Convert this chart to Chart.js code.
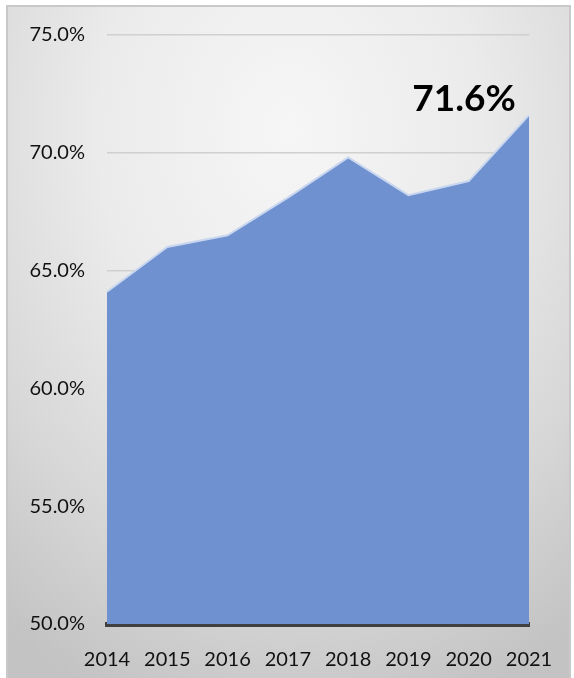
<!DOCTYPE html>
<html lang="en">
<head>
    <meta charset="UTF-8">
    <title>Share 2014-2021</title>
    <style>
        html, body {
            margin: 0;
            padding: 0;
            width: 574px;
            height: 678px;
            overflow: hidden;
            background: #ffffff;
        }
        .frame {
            position: absolute;
            left: 6px;
            top: 5px;
            width: 561px;
            height: 680px;
            border: 2px solid #c9c9c9;
            background: radial-gradient(ellipse 85% 90% at 50% 18%, #f6f6f6 0%, #ebebeb 40%, #d6d6d6 75%, #c3c3c3 100%);
        }
        canvas {
            position: absolute;
            left: 0;
            top: 0;
        }
    </style>
</head>
<body>
    <div class="frame"></div>
    <canvas id="shareChart" width="574" height="678"></canvas>

    <script src="https://cdn.jsdelivr.net/npm/chart.js"></script>
    <script>
        // values (percent)
        const years = ['2014', '2015', '2016', '2017', '2018', '2019', '2020', '2021'];
        const shares = [64.1, 66.0, 66.5, 68.1, 69.8, 68.2, 68.8, 71.6];
        const yTicks = [50, 55, 60, 65, 70, 75];
        const calloutIndex = 7;

        Chart.defaults.font.family = 'Lato, "Open Sans", sans-serif';
        Chart.defaults.color = '#111111';

        // big bold label above the last point
        const calloutPlugin = {
            id: 'callout',
            afterDatasetsDraw(chart) {
                const pt = chart.getDatasetMeta(0).data[calloutIndex];
                if (!pt) return;
                const c = chart.ctx;
                c.save();
                c.font = 'bold 37px Lato, "Open Sans", sans-serif';
                c.fillStyle = '#000000';
                c.textAlign = 'center';
                c.textBaseline = 'alphabetic';
                c.fillText(shares[calloutIndex].toFixed(1) + '%', pt.x - 65, pt.y - 4);
                c.restore();
            }
        };

        const ctx = document.getElementById('shareChart').getContext('2d');
        new Chart(ctx, {
            type: 'line',
            data: {
                labels: years,
                datasets: [{
                    data: shares,
                    borderColor: '#c9d6ef',
                    borderWidth: 2,
                    backgroundColor: '#6f91cf',
                    fill: 'start',
                    tension: 0,
                    pointRadius: 0
                }]
            },
            options: {
                responsive: false,
                animation: false,
                devicePixelRatio: 1,
                layout: {
                    padding: { top: 35, right: 45, bottom: 0, left: 0 }
                },
                plugins: {
                    legend: { display: false },
                    tooltip: { enabled: false }
                },
                scales: {
                    x: {
                        offset: false,
                        grid: { display: false },
                        border: { display: true, color: '#404040', width: 5 },
                        ticks: {
                            padding: 16,
                            maxRotation: 0,
                            autoSkip: false,
                            font: { size: 20 },
                            color: '#111111'
                        },
                        afterFit: (scale) => { scale.height = 54; }
                    },
                    y: {
                        min: 50,
                        max: 75,
                        afterBuildTicks: (scale) => {
                            scale.ticks = yTicks.map(v => ({ value: v }));
                        },
                        grid: {
                            drawTicks: false,
                            lineWidth: 1.5,
                            color: (c) => c.tick && c.tick.value === 50 ? 'rgba(0,0,0,0)' : '#d0d0d0'
                        },
                        border: { display: false },
                        ticks: {
                            padding: 22,
                            font: { size: 20 },
                            color: '#111111',
                            callback: (v) => Number(v).toFixed(1) + '%'
                        },
                        afterFit: (scale) => { scale.width = 107; }
                    }
                }
            },
            plugins: [calloutPlugin]
        });
    </script>
</body>
</html>
